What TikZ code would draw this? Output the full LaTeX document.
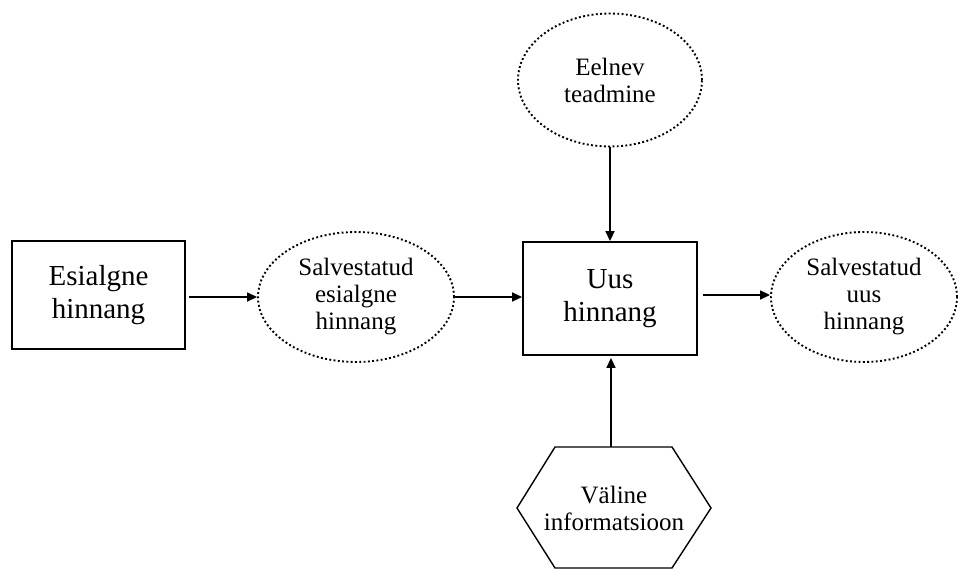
\documentclass[tikz,border=0pt]{standalone}
\usepackage{fontspec}
\setmainfont{Liberation Serif}
\usetikzlibrary{shapes.geometric,arrows.meta}
\tikzset{
  boxnode/.style={draw, line width=1.8pt, rectangle, align=center, inner sep=0pt, font=\fontsize{29}{33}\selectfont},
  dotell/.style={draw, line width=1.9pt, dash pattern=on 1.9pt off 2.4pt, ellipse, align=center, inner sep=0pt, font=\fontsize{25}{27}\selectfont},
  conn/.style={line width=1.5pt, -{Triangle[length=10pt,width=9pt]}},
  hexline/.style={line width=1.4pt, line join=miter}
}
\begin{document}
\begin{tikzpicture}[x=1pt,y=-1pt]
\useasboundingbox (0,0) rectangle (958,570);
\node[boxnode, minimum width=173pt, minimum height=108pt] (b1) at (98.5,295) {Esialgne\\hinnang};
\node[dotell, minimum width=196pt, minimum height=130pt] (e1) at (356,297) {Salvestatud\\esialgne\\hinnang};
\node[boxnode, minimum width=174pt, minimum height=113pt] (b2) at (610,298.5) {Uus\\hinnang};
\node[dotell, minimum width=184pt, minimum height=133pt] (e2) at (610,80) {Eelnev\\teadmine};
\node[dotell, minimum width=186pt, minimum height=130pt] (e3) at (864,297) {Salvestatud\\uus\\hinnang};
\coordinate (h1) at (517,508);
\coordinate (h2) at (555,447);
\coordinate (h3) at (672,447);
\coordinate (h4) at (711,508);
\coordinate (h5) at (672,568);
\coordinate (h6) at (555,568);
\draw[hexline] (h1) -- (h2) -- (h3) -- (h4) -- (h5) -- (h6) -- cycle;
\node[align=center, inner sep=0pt, font=\fontsize{25}{27}\selectfont] (hex) at (614,508) {Väline\\informatsioon};
\coordinate (hextop) at (611,447);
\draw[conn, shorten <=3pt] ([yshift=-2pt]b1.east) -- ([yshift=-2pt]b1.east -| e1.west);
\draw[conn] (e1.east) -- (e1.east -| b2.west);
\draw[conn, shorten <=5pt] ([yshift=3.5pt]b2.east) -- ([yshift=3.5pt]b2.east -| e3.west);
\draw[conn] (e2.south) -- (b2.north);
\draw[conn, shorten >=2pt] (hextop) -- (hextop |- b2.south);
\end{tikzpicture}
\end{document}
